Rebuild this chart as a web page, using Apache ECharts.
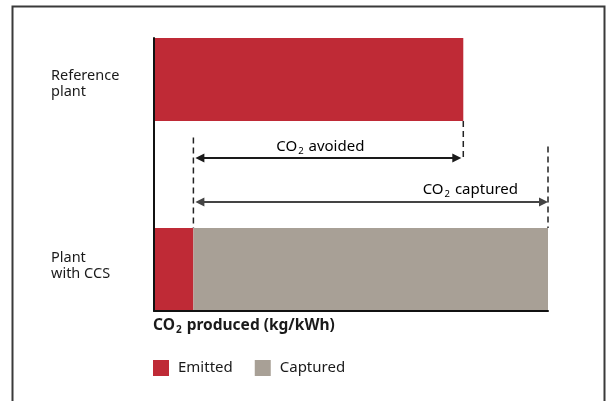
<!DOCTYPE html>
<html>
<head>
    <meta charset="UTF-8">
    <title>CO2 avoided vs captured</title>
    <script src="https://cdn.jsdelivr.net/npm/echarts@6/dist/echarts.min.js"></script>
    <style>
        html, body { margin: 0; padding: 0; background: #fff; }
    </style>
</head>
<body>
<div id="main" style="width: 611px;height:401px;"></div>
<script type="text/javascript">
    // rows (middle one is empty space for the arrows)
    var categories = ['Reference\nplant', '', 'Plant\nwith CCS'];
    // kg/kWh
    var emitted = [0.785, 0, 0.10];
    var captured = [0, 0, 0.90];
    var axisMax = 1.0;
    // arrow spans
    var avoidedSpan = [0.10, 0.785];
    var capturedSpan = [0.10, 1.0];

    var RED = '#BF2A36';
    var GREY = '#A8A096';
    var FONT = '"Noto Sans", sans-serif';

    var emittedData = [], capturedData = [];
    for (var i = 0; i < categories.length; i++) {
        if (emitted[i] > 0) emittedData.push([0, emitted[i], i]);
        if (captured[i] > 0) capturedData.push([emitted[i], emitted[i] + captured[i], i]);
    }

    // bar rect: first row sticks to top of its band, last row to the bottom
    function renderBar(params, api) {
        var cat = api.value(2);
        var p0 = api.coord([api.value(0), cat]);
        var p1 = api.coord([api.value(1), cat]);
        var band = api.size([0, 1])[1];
        var h = band * 0.912;
        var top = cat === 0 ? p0[1] - band / 2 : p0[1] + band / 2 - h;
        return {
            type: 'rect',
            shape: { x: p0[0], y: top, width: p1[0] - p0[0], height: h },
            style: { fill: api.visual('color') }
        };
    }

    function arrow(xa, xb, y, color) {
        return [
            { type: 'line', shape: { x1: xa + 6, y1: y, x2: xb - 6, y2: y }, style: { stroke: color, lineWidth: 2 } },
            { type: 'polygon', shape: { points: [[xa, y], [xa + 9, y - 4.5], [xa + 9, y + 4.5]] }, style: { fill: color } },
            { type: 'polygon', shape: { points: [[xb, y], [xb - 9, y - 4.5], [xb - 9, y + 4.5]] }, style: { fill: color } }
        ];
    }

    function dashed(x, y1, y2) {
        return { type: 'line', shape: { x1: x, y1: y1, x2: x, y2: y2 },
            style: { stroke: '#222', lineWidth: 1.5, lineDash: [6, 4] } };
    }

    var subRich = {
        n: { fontSize: 15, fontFamily: FONT, color: '#1a1a1a', lineHeight: 19 },
        s: { fontSize: 9.5, fontFamily: FONT, color: '#1a1a1a', verticalAlign: 'bottom', lineHeight: 19, padding: [0, 1, 0, 1] }
    };

    function renderNotes(params, api) {
        var band = api.size([0, 1])[1];
        var yc = api.coord([0, 1])[1];
        var refBottom = api.coord([0, 0])[1] - band / 2 + band * 0.912;
        var ccsTop = api.coord([0, 2])[1] + band / 2 - band * 0.912;
        var xa = api.coord([avoidedSpan[0], 1])[0];
        var xb = api.coord([avoidedSpan[1], 1])[0];
        var xc = api.coord([capturedSpan[1], 1])[0];
        var ya = yc - 16.5, yb = yc + 27.5;
        var kids = [
            dashed(xa, yc - 37, ccsTop),
            dashed(xb, refBottom, yc - 14),
            dashed(xc, yc - 28, ccsTop)
        ];
        kids = kids.concat(arrow(xa + 2, xb - 2, ya, '#1a1a1a'));
        kids = kids.concat(arrow(xa + 2, xc, yb, '#444'));
        kids.push({
            type: 'text', x: (xa + xb) / 2 - 8, y: yc - 28,
            style: { text: '{n|CO}{s|2}{n| avoided}', rich: subRich, align: 'center', verticalAlign: 'middle' }
        });
        kids.push({
            type: 'text', x: xc - 30, y: yc + 15,
            style: { text: '{n|CO}{s|2}{n| captured}', rich: subRich, align: 'right', verticalAlign: 'middle' }
        });
        return { type: 'group', children: kids };
    }

    var myChart = echarts.init(document.getElementById('main'));
    var option = {
        animation: false,
        title: {
            left: 153, top: 316, padding: 0,
            text: '{b|CO}{s|2}{b| produced (kg/kWh)}',
            textStyle: {
                rich: {
                    b: { fontSize: 15.5, fontWeight: 'bold', fontFamily: FONT, color: '#1a1a1a', lineHeight: 19 },
                    s: { fontSize: 10, fontWeight: 'bold', fontFamily: FONT, color: '#1a1a1a', verticalAlign: 'bottom', lineHeight: 19, padding: [0, 1, 0, 1] }
                }
            }
        },
        legend: {
            data: ['Emitted', 'Captured'],
            left: 153, top: 360, padding: 0,
            icon: 'rect', itemWidth: 16, itemHeight: 16, itemGap: 22,
            textStyle: { fontSize: 15, fontFamily: FONT, color: '#1a1a1a', padding: [0, 0, 0, 4] }
        },
        grid: { left: 154, right: 63, top: 38, bottom: 90 },
        xAxis: {
            type: 'value', min: 0, max: axisMax, z: 10,
            axisLine: { show: true, lineStyle: { color: '#111', width: 2 } },
            axisTick: { show: false }, axisLabel: { show: false }, splitLine: { show: false }
        },
        yAxis: {
            type: 'category', data: categories, inverse: true, z: 10,
            axisLine: { show: true, lineStyle: { color: '#111', width: 2 } },
            axisTick: { show: false }, splitLine: { show: false },
            axisLabel: { align: 'left', margin: 103, fontSize: 14.5, lineHeight: 16, fontFamily: FONT, color: '#1a1a1a', padding: [0, 0, 5, 0] }
        },
        graphic: [{
            type: 'rect', silent: true,
            shape: { x: 12.5, y: 6.5, width: 592, height: 460 },
            style: { fill: 'none', stroke: '#3a3a3a', lineWidth: 2 }
        }],
        series: [
            { name: 'Emitted', type: 'custom', renderItem: renderBar, itemStyle: { color: RED },
              encode: { x: [0, 1], y: 2 }, data: emittedData },
            { name: 'Captured', type: 'custom', renderItem: renderBar, itemStyle: { color: GREY },
              encode: { x: [0, 1], y: 2 }, data: capturedData },
            { type: 'custom', renderItem: renderNotes, silent: true, data: [[0, 0, 1]] }
        ]
    };
    myChart.setOption(option);
</script>
</body>
</html>
